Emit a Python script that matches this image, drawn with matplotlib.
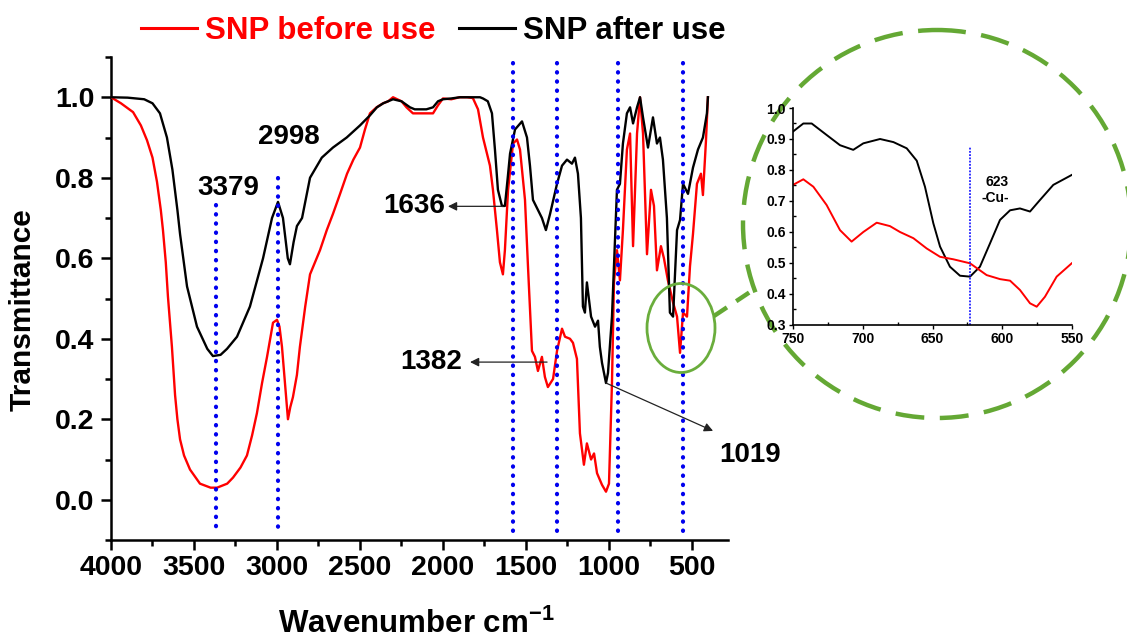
import numpy as np
import matplotlib
matplotlib.use("Agg")
import matplotlib.pyplot as plt
from matplotlib.patches import Circle, Ellipse
from matplotlib.lines import Line2D
from matplotlib.ticker import MultipleLocator

plt.rcParams['font.family'] = ['Liberation Sans', 'DejaVu Sans']
plt.rcParams['font.weight'] = 'bold'
plt.rcParams['mathtext.fontset'] = 'custom'
plt.rcParams['mathtext.rm'] = 'Liberation Sans:bold'
plt.rcParams['mathtext.bf'] = 'Liberation Sans:bold'

# ---------------- data ----------------
after_wn = [4000, 3900, 3800, 3750, 3705, 3663, 3630, 3600, 3584, 3542, 3482, 3420, 3386, 3340,
            3301, 3241, 3163, 3084, 3030, 2994, 2964, 2935, 2922, 2900, 2880, 2849, 2801, 2730,
            2663, 2580, 2500, 2440, 2398, 2360, 2301, 2250, 2199, 2170, 2140, 2100, 2060, 2030,
            2000, 1950, 1898, 1800, 1777, 1759, 1730, 1705, 1687, 1669, 1645, 1627, 1610, 1596,
            1566, 1524, 1494, 1476, 1458, 1428, 1404, 1380, 1355, 1313, 1283, 1253, 1223, 1205,
            1187, 1169, 1157, 1145, 1133, 1108, 1084, 1066, 1055, 1042, 1018, 1006, 982, 970,
            952, 934, 916, 892, 873, 855, 831, 813, 795, 765, 735, 711, 693, 675, 651, 633, 614,
            590, 572, 554, 524, 494, 464, 434, 410, 404]
after_t = [1.0, 0.999, 0.995, 0.985, 0.96, 0.90, 0.82, 0.72, 0.66, 0.53, 0.43, 0.375, 0.357, 0.36,
           0.375, 0.405, 0.48, 0.60, 0.70, 0.74, 0.70, 0.60, 0.585, 0.64, 0.68, 0.70, 0.80, 0.85,
           0.875, 0.90, 0.93, 0.955, 0.975, 0.985, 0.995, 0.99, 0.975, 0.97, 0.97, 0.97, 0.975, 0.99,
           0.995, 0.997, 1.0, 1.0, 1.0, 0.997, 0.99, 0.96, 0.87, 0.77, 0.73, 0.73, 0.80, 0.86,
           0.92, 0.94, 0.90, 0.83, 0.745, 0.72, 0.70, 0.67, 0.71, 0.785, 0.83, 0.845, 0.835, 0.85,
           0.81, 0.70, 0.48, 0.465, 0.54, 0.455, 0.43, 0.445, 0.38, 0.34, 0.29, 0.315, 0.455, 0.58,
           0.77, 0.785, 0.885, 0.96, 0.975, 0.935, 0.975, 1.0, 0.95, 0.875, 0.95, 0.885, 0.90, 0.845,
           0.70, 0.465, 0.455, 0.67, 0.695, 0.785, 0.76, 0.825, 0.87, 0.90, 0.96, 1.0]

before_wn = [4000, 3940, 3867, 3820, 3783, 3750, 3723, 3700, 3687, 3670, 3657, 3633, 3614, 3600,
             3584, 3560, 3524, 3464, 3400, 3361, 3300, 3265, 3220, 3181, 3150, 3121, 3090, 3060,
             3024, 3000, 2985, 2970, 2950, 2934, 2920, 2904, 2880, 2862, 2830, 2801, 2741, 2700,
             2663, 2620, 2578, 2540, 2500, 2470, 2440, 2400, 2361, 2330, 2301, 2250, 2220, 2181,
             2120, 2060, 2030, 2000, 1950, 1900, 1855, 1820, 1789, 1759, 1717, 1699, 1675, 1657,
             1639, 1627, 1608, 1578, 1554, 1536, 1506, 1488, 1464, 1446, 1428, 1404, 1386, 1368,
             1337, 1313, 1283, 1265, 1235, 1217, 1193, 1175, 1151, 1133, 1108, 1090, 1072, 1042,
             1018, 1000, 982, 970, 952, 934, 916, 892, 873, 855, 831, 813, 795, 771, 747, 729,
             711, 687, 669, 645, 614, 590, 572, 554, 530, 512, 494, 470, 446, 434, 416, 404]
before_t = [1.0, 0.985, 0.963, 0.93, 0.893, 0.85, 0.79, 0.72, 0.67, 0.59, 0.505, 0.38, 0.26, 0.20,
            0.15, 0.11, 0.075, 0.04, 0.03, 0.03, 0.04, 0.055, 0.08, 0.11, 0.16, 0.215, 0.29, 0.355,
            0.44, 0.447, 0.43, 0.38, 0.28, 0.20, 0.23, 0.255, 0.31, 0.38, 0.48, 0.56, 0.62, 0.67,
            0.71, 0.76, 0.81, 0.845, 0.875, 0.92, 0.96, 0.975, 0.985, 0.99, 1.0, 0.99, 0.975, 0.96,
            0.96, 0.96, 0.98, 0.997, 0.995, 1.0, 1.0, 0.998, 0.97, 0.90, 0.83, 0.77, 0.67, 0.59,
            0.56, 0.62, 0.77, 0.885, 0.895, 0.87, 0.745, 0.58, 0.37, 0.355, 0.32, 0.355, 0.305, 0.28,
            0.30, 0.37, 0.425, 0.405, 0.40, 0.39, 0.35, 0.165, 0.087, 0.14, 0.10, 0.115, 0.066, 0.037,
            0.02, 0.04, 0.29, 0.54, 0.62, 0.545, 0.67, 0.87, 0.91, 0.63, 0.91, 1.0, 0.91, 0.61, 0.77, 0.73,
            0.57, 0.63, 0.60, 0.545, 0.49, 0.455, 0.365, 0.465, 0.455, 0.58, 0.66, 0.785, 0.81, 0.757, 0.89, 1.0]

inset_after_wn = [750, 742.6, 736.6, 725.9, 716.3, 706.8, 699.6, 687.6, 678, 668.5, 661.3, 655.4,
                  649.4, 644.6, 637.5, 630.3, 623.1, 616, 608.8, 601.6, 594.4, 587.3, 580.1, 573,
                  563.4, 550.2]
inset_after_t = [0.924, 0.95, 0.95, 0.913, 0.88, 0.865, 0.886, 0.90, 0.89, 0.87, 0.83, 0.746,
                 0.628, 0.553, 0.488, 0.459, 0.456, 0.488, 0.563, 0.639, 0.67, 0.676, 0.666, 0.703,
                 0.752, 0.784]
inset_before_wn = [750, 742.6, 735.4, 725.9, 716.3, 708, 699.6, 690, 680.5, 673.3, 663.7, 654.2,
                   644.6, 635.1, 623.1, 611.2, 601.6, 594.4, 587.3, 580.1, 575.3, 569.4, 561, 550.2]
inset_before_t = [0.752, 0.77, 0.746, 0.687, 0.606, 0.569, 0.60, 0.63, 0.619, 0.60, 0.58, 0.547,
                  0.52, 0.512, 0.499, 0.461, 0.448, 0.443, 0.413, 0.37, 0.359, 0.391, 0.456, 0.499]

series_labels = ['SNP before use', 'SNP after use']
series_colors = ['#ff0000', '#000000']
x_ticks = [4000, 3500, 3000, 2500, 2000, 1500, 1000, 500]
y_ticks = [0.0, 0.2, 0.4, 0.6, 0.8, 1.0]
inset_x_ticks = [750, 700, 650, 600, 550]
inset_y_ticks = [0.3, 0.4, 0.5, 0.6, 0.7, 0.8, 0.9, 1.0]

marker_lines_low = [3370, 2996]          # dotted guides that start below labels
marker_lines_full = [1580, 1311, 944, 556]
peak_labels = ['3379', '2998', '1636', '1382', '1019']
inset_marker = 623

# ---------------- figure ----------------
W, H = 1127, 641
fig = plt.figure(figsize=(W / 100, H / 100), dpi=100)

ax = fig.add_axes([111 / W, 1 - 540 / H, 617 / W, 483 / H], zorder=1)
ax.plot(before_wn, before_t, color=series_colors[0], lw=1.7, label=series_labels[0], zorder=3)
ax.plot(after_wn, after_t, color=series_colors[1], lw=1.7, label=series_labels[1], zorder=3)
ax.set_xlim(4000, 283)
ax.set_ylim(-0.1, 1.1)

blue = '#0000ee'
for w, top in zip(marker_lines_low, [0.733, 0.80]):
    ax.plot([w, w], [top, -0.085], color=blue, lw=3.0, linestyle=(0, (0.1, 2.1)),
            dash_capstyle='round', zorder=4)
for w in marker_lines_full:
    ax.plot([w, w], [1.085, -0.085], color=blue, lw=3.0, linestyle=(0, (0.1, 2.1)),
            dash_capstyle='round', zorder=4)

for s in ['top', 'right']:
    ax.spines[s].set_visible(False)
for s in ['left', 'bottom']:
    ax.spines[s].set_linewidth(1.8)
ax.set_xticks(x_ticks)
ax.set_xticklabels([str(v) for v in x_ticks])
ax.xaxis.set_minor_locator(MultipleLocator(250))
ax.set_yticks(y_ticks)
ax.set_yticklabels([f'{v:.1f}' for v in y_ticks])
ax.yaxis.set_minor_locator(MultipleLocator(0.1))
ax.tick_params(which='major', direction='out', length=7, width=1.8, labelsize=20.5, pad=4)
ax.tick_params(which='minor', direction='out', length=4, width=1.8)
ax.tick_params(axis='y', which='major', pad=5)
for lab in ax.get_xticklabels() + ax.get_yticklabels():
    lab.set_fontweight('bold')

fig.text(416 / W, 1 - 624 / H, r'Wavenumber cm$^{\mathbf{-1}}$', ha='center', va='center',
         fontsize=22.5, fontweight='bold')
fig.text(23 / W, 1 - 310 / H, 'Transmittance', rotation=90, ha='center', va='center',
         fontsize=21.5, fontweight='bold')

# peak labels
ax.text(3295, 0.774, peak_labels[0], ha='center', va='center', fontsize=20, fontweight='bold')
ax.text(2928, 0.90, peak_labels[1], ha='center', va='center', fontsize=20, fontweight='bold')
arrow = dict(arrowstyle='-|>', lw=0.9, color='#222222', mutation_scale=13, shrinkA=0, shrinkB=0)
ax.annotate('', xy=(1970, 0.729), xytext=(1639, 0.729), arrowprops=arrow, zorder=5)
ax.text(1985, 0.729, peak_labels[2], ha='right', va='center', fontsize=20, fontweight='bold')
ax.annotate('', xy=(1837, 0.342), xytext=(1373, 0.342), arrowprops=arrow, zorder=5)
ax.text(1885, 0.342, peak_labels[3], ha='right', va='center', fontsize=20, fontweight='bold')
ax.annotate('', xy=(373, 0.171), xytext=(1018, 0.29), arrowprops=arrow, zorder=5)
ax.text(150, 0.112, peak_labels[4], ha='center', va='center', fontsize=20, fontweight='bold',
        clip_on=False)

# legend
handles = [Line2D([], [], color=c, lw=2.2) for c in series_colors]
leg = fig.legend(handles, series_labels, ncol=2, loc='center left',
                 bbox_to_anchor=(141 / W, 1 - 31 / H), frameon=False, borderpad=0,
                 borderaxespad=0, handlelength=1.8, handletextpad=0.26, columnspacing=0.74,
                 prop={'weight': 'bold', 'size': 22.5})
for t, c in zip(leg.get_texts(), series_colors):
    t.set_color(c)

# overlay for green circle / ellipse
ov = fig.add_axes([0, 0, 1, 1], zorder=2)
ov.set_xlim(0, W)
ov.set_ylim(H, 0)
ov.set_axis_off()
ov.patch.set_alpha(0)
green = '#64a834'
ov.add_patch(Circle((937, 224), 194, fill=False, edgecolor=green, lw=3.2,
                    linestyle=(0, (6.5, 3.5))))
ov.add_patch(Ellipse((681, 328), 68, 89, fill=False, edgecolor='#6aad3c', lw=2.0))
ov.plot([714, 750], [316, 292], color=green, lw=3.2, linestyle=(0, (3.5, 2.5)))

# inset
ins = fig.add_axes([793 / W, 1 - 325 / H, 279 / W, 217 / H], zorder=3)
ins.patch.set_alpha(0)
ins.plot(inset_after_wn, inset_after_t, color=series_colors[1], lw=1.4)
ins.plot(inset_before_wn, inset_before_t, color=series_colors[0], lw=1.4)
ins.plot([inset_marker, inset_marker], [0.3, 0.875], color='#2020ff', lw=1.3,
         linestyle=(0, (1, 0.8)))
ins.set_xlim(750, 550)
ins.set_ylim(0.3, 1.0)
for s in ['top', 'right']:
    ins.spines[s].set_visible(False)
for s in ['left', 'bottom']:
    ins.spines[s].set_linewidth(1.2)
ins.set_xticks(inset_x_ticks)
ins.set_xticklabels([str(v) for v in inset_x_ticks])
ins.xaxis.set_minor_locator(MultipleLocator(25))
ins.set_yticks(inset_y_ticks)
ins.set_yticklabels([f'{v:.1f}' for v in inset_y_ticks])
ins.yaxis.set_minor_locator(MultipleLocator(0.05))
ins.tick_params(which='major', direction='out', length=3, width=1.0, labelsize=10, pad=2)
ins.tick_params(which='minor', direction='in', length=2, width=1.0)
for lab in ins.get_xticklabels() + ins.get_yticklabels():
    lab.set_fontweight('bold')
ins.text(604, 0.762, str(inset_marker), ha='center', va='center', fontsize=10, fontweight='bold')
ins.text(605, 0.709, '-Cu-', ha='center', va='center', fontsize=10, fontweight='bold')

fig.savefig('out.png', dpi=100)
